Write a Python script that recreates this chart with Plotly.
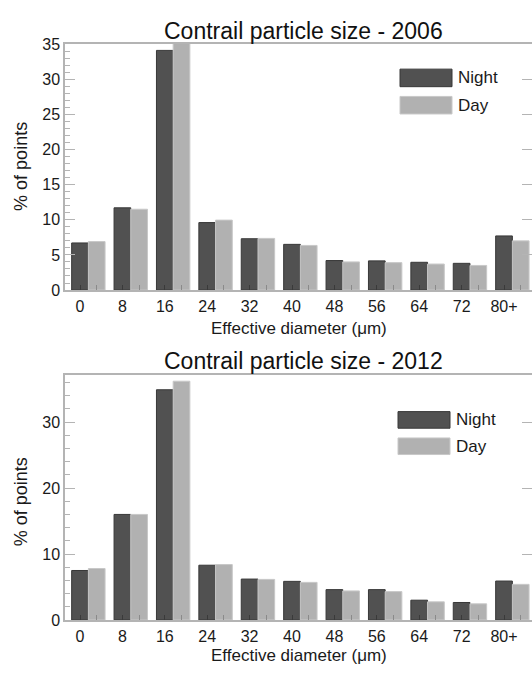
import plotly.graph_objects as go

# ---- data ----
categories = ["0", "8", "16", "24", "32", "40", "48", "56", "64", "72", "80+"]
night_2006 = [6.7, 11.7, 34.1, 9.6, 7.3, 6.5, 4.2, 4.15, 3.95, 3.8, 7.7]
day_2006 = [6.9, 11.5, 35.8, 9.95, 7.35, 6.35, 4.0, 3.9, 3.7, 3.5, 7.0]
night_2012 = [7.5, 16.0, 34.9, 8.3, 6.2, 5.85, 4.6, 4.6, 3.0, 2.65, 5.9]
day_2012 = [7.8, 16.0, 36.2, 8.4, 6.15, 5.7, 4.4, 4.3, 2.75, 2.45, 5.4]
years = ["2006", "2012"]

W, H = 532, 678
BW = 0.394
idx = list(range(len(categories)))
idx_day = [i + BW for i in idx]

NIGHT_C, DAY_C = "#515151", "#b1b1b1"
NIGHT_L, DAY_L = "#383838", "#c8c8c8"
AX_C = "#b4b4b4"
FONT = "Liberation Sans, Arial, sans-serif"

def px_x(p):
    return p / W

def px_y(p):
    return 1 - p / H

fig = go.Figure()

panels = [
    dict(night=night_2006, day=day_2006, xa="x", ya="y", xo="x3", yo="y3",
         top=37.0, bot=289.3, yr=[0, 35], dt=5, mdt=1, title_y=24, xt_y=317,
         yt_y=163, leg_top=62.7, leg_h=18, leg_gap=28),
    dict(night=night_2012, day=day_2012, xa="x2", ya="y2", xo="x4", yo="y4",
         top=376.7, bot=627.7, yr=[0, 37.1], dt=10, mdt=2, title_y=362, xt_y=652,
         yt_y=507, leg_top=414, leg_h=17, leg_gap=27),
]

for k, p in enumerate(panels):
    fig.add_trace(go.Bar(x=idx, y=p["night"], width=BW, xaxis=p["xa"], yaxis=p["ya"],
                         marker=dict(color=NIGHT_C, line=dict(color=NIGHT_L, width=1)),
                         name="Night", showlegend=False))
    fig.add_trace(go.Bar(x=idx_day, y=p["day"], width=BW, xaxis=p["xa"], yaxis=p["ya"],
                         marker=dict(color=DAY_C, line=dict(color=DAY_L, width=1)),
                         name="Day", showlegend=False))
    # invisible trace to hold the overlay axes (day-center ticks, right ticks)
    fig.add_trace(go.Scatter(x=idx_day, y=p["day"], xaxis=p["xo"], yaxis=p["yo"],
                             mode="none", showlegend=False, hoverinfo="skip"))

x0d = 65 / W
xrange_ = [-0.354, 10.66]
layout = dict(
    width=W, height=H, margin=dict(l=0, r=0, t=0, b=0),
    plot_bgcolor="white", paper_bgcolor="white", barmode="overlay",
    font=dict(family=FONT, size=16, color="#1a1a1a"),
    showlegend=False,
)

for k, p in enumerate(panels):
    n = "" if k == 0 else "2"
    xa_name = "xaxis" + n
    ya_name = "yaxis" + n
    dom_y = [px_y(p["bot"]), px_y(p["top"])]
    layout[xa_name] = dict(
        domain=[x0d, 1], range=xrange_, anchor=p["ya"],
        tickvals=idx, ticktext=categories, ticks="inside", ticklen=5,
        tickcolor="#3a3a3a", tickwidth=1, showgrid=False, zeroline=False,
        showline=True, linecolor=AX_C, linewidth=1.5, mirror=True,
        tickfont=dict(size=16), ticklabelstandoff=1,
    )
    layout[ya_name] = dict(
        domain=dom_y, range=p["yr"], anchor=p["xa"], dtick=p["dt"], tick0=0,
        ticks="inside", ticklen=10, tickcolor=AX_C, tickwidth=1,
        minor=dict(dtick=p["mdt"], ticks="inside", ticklen=5, tickcolor=AX_C, showgrid=False),
        showgrid=False, zeroline=False, showline=True, linecolor=AX_C, linewidth=1.5,
        tickfont=dict(size=16),
    )
    xo = "xaxis" + p["xo"][1:]
    yo = "yaxis" + p["yo"][1:]
    layout[xo] = dict(
        overlaying=p["xa"], anchor=p["ya"], range=xrange_, tickvals=idx_day,
        ticks="inside", ticklen=5, tickcolor="#8a8a8a", showticklabels=False,
        showgrid=False, zeroline=False, showline=False, side="bottom",
    )
    layout[yo] = dict(
        overlaying=p["ya"], anchor=p["xa"], range=p["yr"], dtick=p["dt"], tick0=0,
        side="right", ticks="inside", ticklen=10, tickcolor=AX_C,
        showticklabels=False, showgrid=False, zeroline=False, showline=False,
    )

fig.update_layout(**layout)

annotations = []
shapes = []
for k, p in enumerate(panels):
    annotations.append(dict(text="Contrail particle size - " + years[k], xref="paper", yref="paper",
                            x=px_x(303), y=px_y(p["title_y"]), xanchor="center", yanchor="middle",
                            showarrow=False, font=dict(size=23, color="#111")))
    annotations.append(dict(text="Effective diameter (μm)", xref="paper", yref="paper",
                            x=px_x(299), y=px_y(p["xt_y"]), xanchor="center", yanchor="top",
                            showarrow=False, font=dict(size=17)))
    annotations.append(dict(text="% of points", xref="paper", yref="paper", textangle=-90,
                            x=px_x(21), y=px_y(p["yt_y"]), xanchor="center", yanchor="middle",
                            showarrow=False, font=dict(size=18)))
    lx0 = 400 if k == 0 else 398
    lx1 = lx0 + 52
    for j, (lab, fc, lc) in enumerate([("Night", NIGHT_C, NIGHT_L), ("Day", DAY_C, DAY_L)]):
        yt = p["leg_top"] + j * p["leg_gap"]
        shapes.append(dict(type="rect", xref="paper", yref="paper",
                           x0=px_x(lx0), x1=px_x(lx1), y0=px_y(yt + p["leg_h"]), y1=px_y(yt),
                           fillcolor=fc, line=dict(color=lc, width=1)))
        annotations.append(dict(text=lab, xref="paper", yref="paper",
                                x=px_x(lx1 + 4), y=px_y(yt + p["leg_h"] / 2),
                                xanchor="left", yanchor="middle", showarrow=False,
                                font=dict(size=17)))

fig.update_layout(annotations=annotations, shapes=shapes)
fig.write_html("out.html")
